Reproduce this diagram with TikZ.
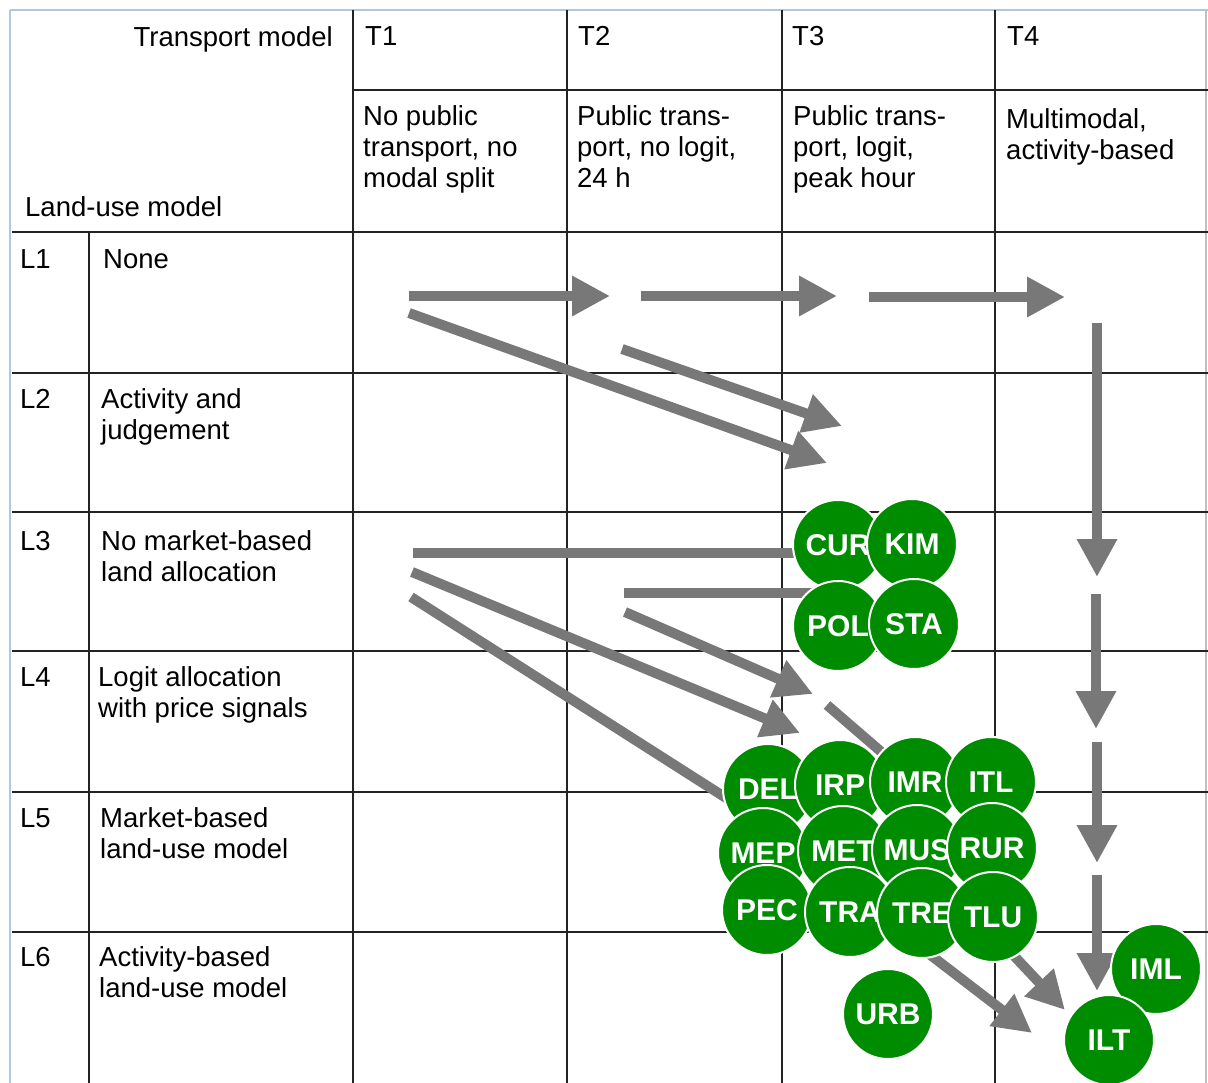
\documentclass[tikz,border=0pt]{standalone}
\usepackage{fontspec}
\setmainfont{Liberation Sans}
\usetikzlibrary{arrows.meta}
\definecolor{gridc}{RGB}{35,35,35}
\definecolor{framec}{RGB}{180,198,222}
\definecolor{arrc}{RGB}{120,120,120}
\definecolor{leaf}{RGB}{0,140,0}
\newcommand\celltext[1]{\begin{tabular}[t]{@{}l@{}}#1\end{tabular}}
\begin{document}
\begin{tikzpicture}[x=1pt,y=-1pt,
  gridline/.style={draw=gridc,line width=1.8pt},
  framel/.style={draw=framec,line width=1.6pt},
  txt/.style={anchor=base west,inner sep=0pt,font=\fontsize{27.5}{31}\selectfont},
  model/.style={circle,fill=leaf,draw=white,line width=2pt,minimum size=90pt,inner sep=0pt,text=white,font=\fontsize{30}{30}\selectfont\bfseries},
  flow/.style={draw=arrc,line width=10pt,-{Triangle[length=38pt,width=38pt]}},
  link/.style={draw=arrc,line width=10pt},
]
\fill[white] (0,0) rectangle (1208,1083);
\useasboundingbox (0,0) rectangle (1208,1083);

% frame
\draw[framel] (10,10) -- (1208,10);
\draw[framel] (10,10) -- (10,1083);
\draw[draw=black!25,line width=1.2pt] (1206,10) -- (1206,1083);

% grid
\draw[gridline] (353,90) -- (1208,90);
\foreach \yy in {232,373,512,651,792,932} \draw[gridline] (12,\yy) -- (1208,\yy);
\draw[gridline] (89,232) -- (89,1083);
\foreach \xx in {353,567,782,995} \draw[gridline] (\xx,10) -- (\xx,1083);

% header texts
\node[txt,anchor=base east] (tm) at (333,47) {Transport model};
\node[txt] (lum) at (25,217) {Land-use model};
\node[txt] (t1) at (365,46) {T1};
\node[txt] (t2) at (578,46) {T2};
\node[txt] (t3) at (792,46) {T3};
\node[txt] (t4) at (1007,46) {T4};
\node[txt] (d1) at (363,126) {\celltext{No public\\transport, no\\modal split}};
\node[txt] (d2) at (577,126) {\celltext{Public trans-\\port, no logit,\\24 h}};
\node[txt] (d3) at (793,126) {\celltext{Public trans-\\port, logit,\\peak hour}};
\node[txt] (d4) at (1006,129) {\celltext{Multimodal,\\activity-based}};

% row texts
\node[txt] (l1) at (20,269) {L1};
\node[txt] (n1) at (103,269) {None};
\node[txt] (l2) at (20,409) {L2};
\node[txt] (n2) at (101,409) {\celltext{Activity and\\judgement}};
\node[txt] (l3) at (20,550) {L3};
\node[txt] (n3) at (101,550) {\celltext{No market-based\\land allocation}};
\node[txt] (l4) at (20,686) {L4};
\node[txt] (n4) at (98,686) {\celltext{Logit allocation\\with price signals}};
\node[txt] (l5) at (20,827) {L5};
\node[txt] (n5) at (100,827) {\celltext{Market-based\\land-use model}};
\node[txt] (l6) at (20,966) {L6};
\node[txt] (n6) at (99,966) {\celltext{Activity-based\\land-use model}};

% arrow coordinates
\coordinate (a1s) at (409,296);  \coordinate (a1e) at (610,296);
\coordinate (a2s) at (641,296);  \coordinate (a2e) at (837,296);
\coordinate (a3s) at (869,297);  \coordinate (a3e) at (1065,297);
\coordinate (a4s) at (409,313);  \coordinate (a4e) at (827,463);
\coordinate (a5s) at (622,349);  \coordinate (a5e) at (842,426);
\coordinate (a6s) at (1097,323); \coordinate (a6e) at (1097,577);
\coordinate (a7s) at (1096,594); \coordinate (a7e) at (1096,729);
\coordinate (a8s) at (1097,742); \coordinate (a8e) at (1097,863);
\coordinate (a9s) at (1097,875); \coordinate (a9e) at (1097,991);
\coordinate (a10s) at (1000,941); \coordinate (a10e) at (1065,1010);
\coordinate (a11s) at (920,947);  \coordinate (a11e) at (1032,1033);
\coordinate (a12s) at (413,553); \coordinate (a12e) at (805,553);
\coordinate (a13s) at (624,593); \coordinate (a13e) at (815,593);
\coordinate (a14s) at (412,572); \coordinate (a14e) at (800,733);
\coordinate (a15s) at (411,597); \coordinate (a15e) at (745,810);
\coordinate (a16s) at (625,612); \coordinate (a16e) at (813,694);
\coordinate (a17s) at (827,705); \coordinate (a17e) at (900,768);

\draw[flow] (a1s) -- (a1e);
\draw[flow] (a2s) -- (a2e);
\draw[flow] (a3s) -- (a3e);
\draw[flow] (a4s) -- (a4e);
\draw[flow] (a5s) -- (a5e);
\draw[flow] (a6s) -- (a6e);
\draw[flow] (a7s) -- (a7e);
\draw[flow] (a8s) -- (a8e);
\draw[flow] (a9s) -- (a9e);
\draw[flow] (a10s) -- (a10e);
\draw[flow] (a11s) -- (a11e);
\draw[link] (a12s) -- (a12e);
\draw[link] (a13s) -- (a13e);
\draw[flow] (a14s) -- (a14e);
\draw[link] (a15s) -- (a15e);
\draw[flow] (a16s) -- (a16e);
\draw[link] (a17s) -- (a17e);

% model circles
\node[model] (cur) at (838,545) {CUR};
\node[model] (kim) at (912,544) {KIM};
\node[model] (pol) at (838,626) {POL};
\node[model] (sta) at (914,624) {STA};

\node[model] (del) at (768,789) {DEL};
\node[model] (irp) at (840,785) {IRP};
\node[model] (imr) at (915,782) {IMR};
\node[model] (itl) at (991,782) {ITL};
\node[model] (mep) at (763,853) {MEP};
\node[model] (met) at (843,851) {MET};
\node[model] (mus) at (917,850) {MUS};
\node[model] (rur) at (992,848) {RUR};
\node[model] (pec) at (767,910) {PEC};
\node[model] (tra) at (850,912) {TRA};
\node[model] (tre) at (922,913) {TRE};
\node[model] (tlu) at (993,917) {TLU};

\node[model] (urb) at (888,1014) {URB};
\node[model] (iml) at (1156,969) {IML};
\node[model] (ilt) at (1109,1040) {ILT};
\end{tikzpicture}
\end{document}
